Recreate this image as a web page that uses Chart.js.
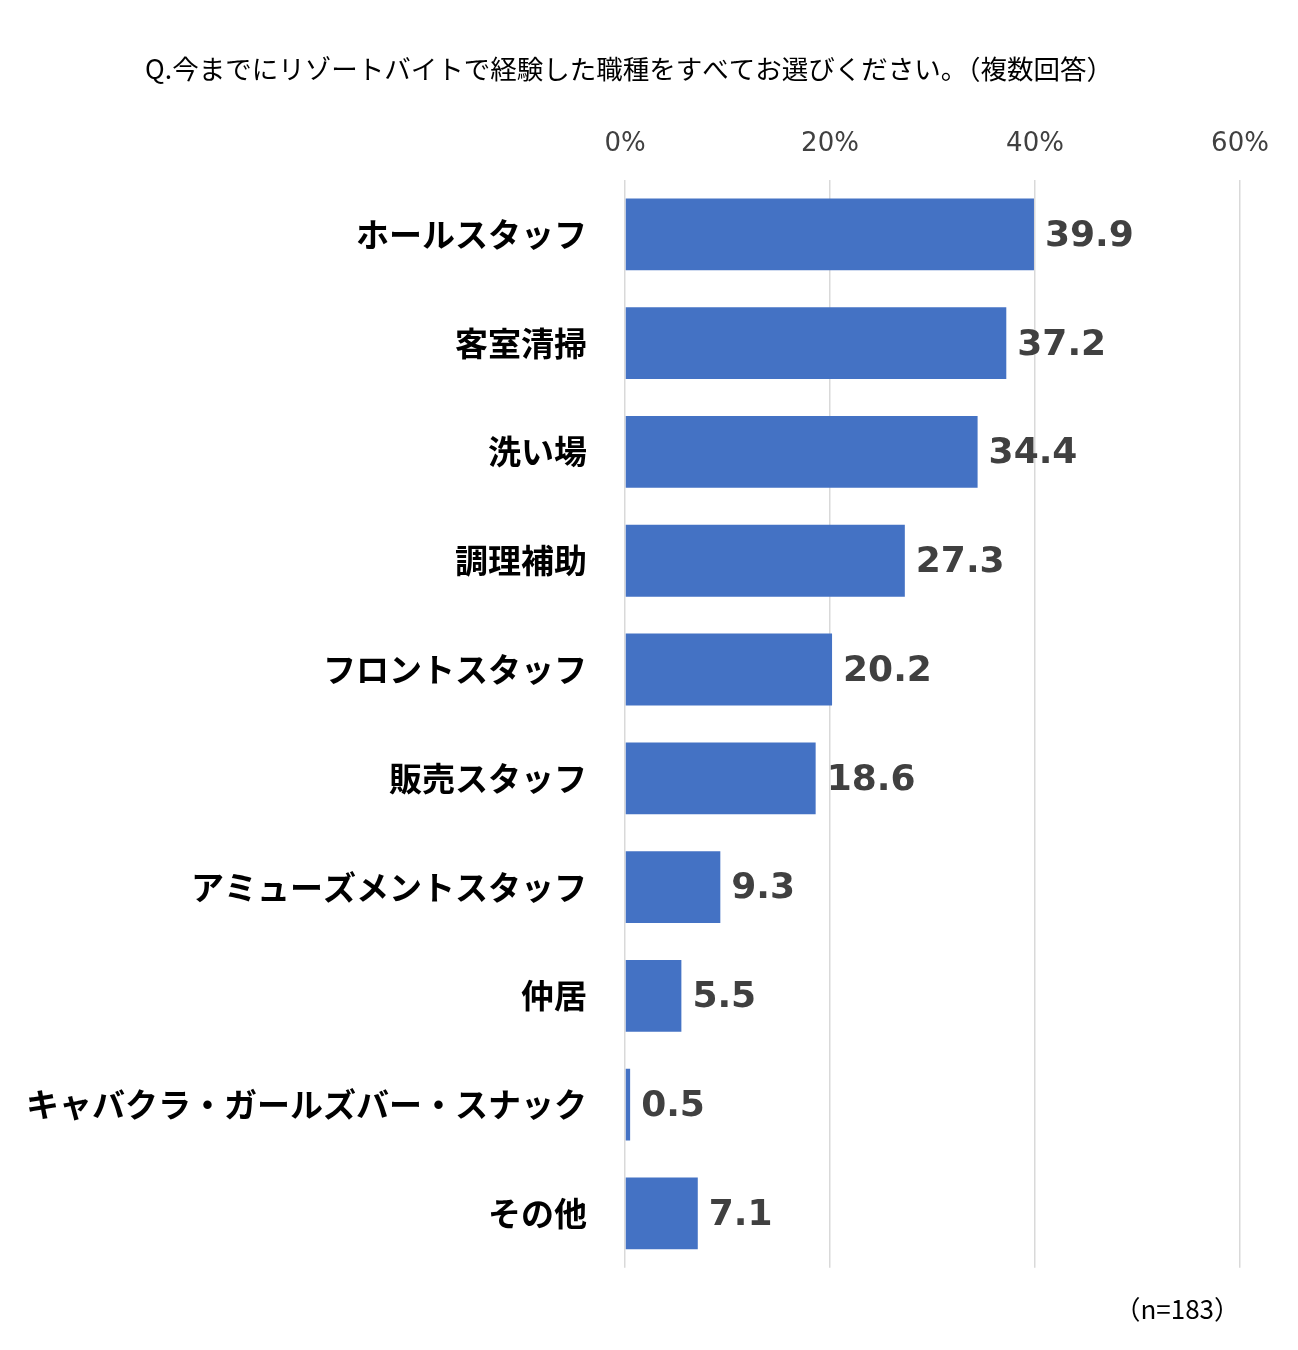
<!DOCTYPE html>
<html>
<head>
<meta charset="utf-8">
<script src="https://cdn.jsdelivr.net/npm/chart.js@4"></script>
<style>
  body { margin: 0; background: #fff; }
  #wrap { width: 1298px; height: 1350px; }
</style>
</head>
<body>
<div id="wrap"><canvas id="jobChart" width="1298" height="1350"></canvas></div>
<script>
const titleText = "Q.今までにリゾートバイトで経験した職種をすべてお選びください。（複数回答）";
const noteText = "（n=183）";
const categories = [
  "ホールスタッフ",
  "客室清掃",
  "洗い場",
  "調理補助",
  "フロントスタッフ",
  "販売スタッフ",
  "アミューズメントスタッフ",
  "仲居",
  "キャバクラ・ガールズバー・スナック",
  "その他",
];
const values = [39.9, 37.2, 34.4, 27.3, 20.2, 18.6, 9.3, 5.5, 0.5, 7.1];
const tickValues = [0, 20, 40, 60];

const jp = '"Noto Sans CJK JP", sans-serif';

// value labels at the end of each bar
const valueLabels = {
  id: "valueLabels",
  afterDatasetsDraw(chart) {
    const ctx = chart.ctx;
    const meta = chart.getDatasetMeta(0);
    ctx.save();
    ctx.font = 'bold 36px "DejaVu Sans", sans-serif';
    ctx.fillStyle = "#404040";
    ctx.textAlign = "left";
    ctx.textBaseline = "middle";
    meta.data.forEach((bar, i) => {
      ctx.fillText(values[i].toFixed(1), bar.x + 11, bar.y + 2);
    });
    ctx.restore();
  },
};

const ctx = document.getElementById("jobChart").getContext("2d");
const jobChart = new Chart(ctx, {
  type: "bar",
  data: {
    labels: categories,
    datasets: [
      {
        data: values,
        backgroundColor: "#4472C4",
        barPercentage: 0.66,
        categoryPercentage: 1,
      },
    ],
  },
  options: {
    indexAxis: "y",
    responsive: false,
    animation: false,
    layout: {
      padding: { left: 18, right: 58, top: 0, bottom: 0 },
    },
    plugins: {
      legend: { display: false },
      tooltip: { enabled: false },
      title: {
        display: true,
        text: titleText,
        color: "#000",
        font: { family: jp, size: 26.5, weight: "normal" },
        padding: { top: 53, bottom: 24 },
      },
      subtitle: {
        display: true,
        position: "bottom",
        align: "end",
        text: noteText,
        color: "#000",
        font: { family: jp, size: 26, weight: "normal" },
        padding: { top: 26, bottom: 25 },
      },
    },
    scales: {
      x: {
        position: "top",
        min: 0,
        max: 60,
        afterBuildTicks: (scale) => {
          scale.ticks = tickValues.map((v) => ({ value: v }));
        },
        ticks: {
          callback: (v) => v + "%",
          color: "#404040",
          font: { family: '"DejaVu Sans", sans-serif', size: 26 },
          padding: 20,
        },
        grid: { color: "#d9d9d9", lineWidth: 1.5, drawTicks: false },
        border: { display: false },
      },
      y: {
        afterFit: (scale) => {
          scale.width = 607;
        },
        ticks: {
          color: "#000",
          font: { family: jp, size: 33, weight: "bold" },
          padding: 38,
        },
        grid: { display: false, drawTicks: false },
        border: { display: false },
      },
    },
  },
  plugins: [valueLabels],
});
</script>
</body>
</html>
